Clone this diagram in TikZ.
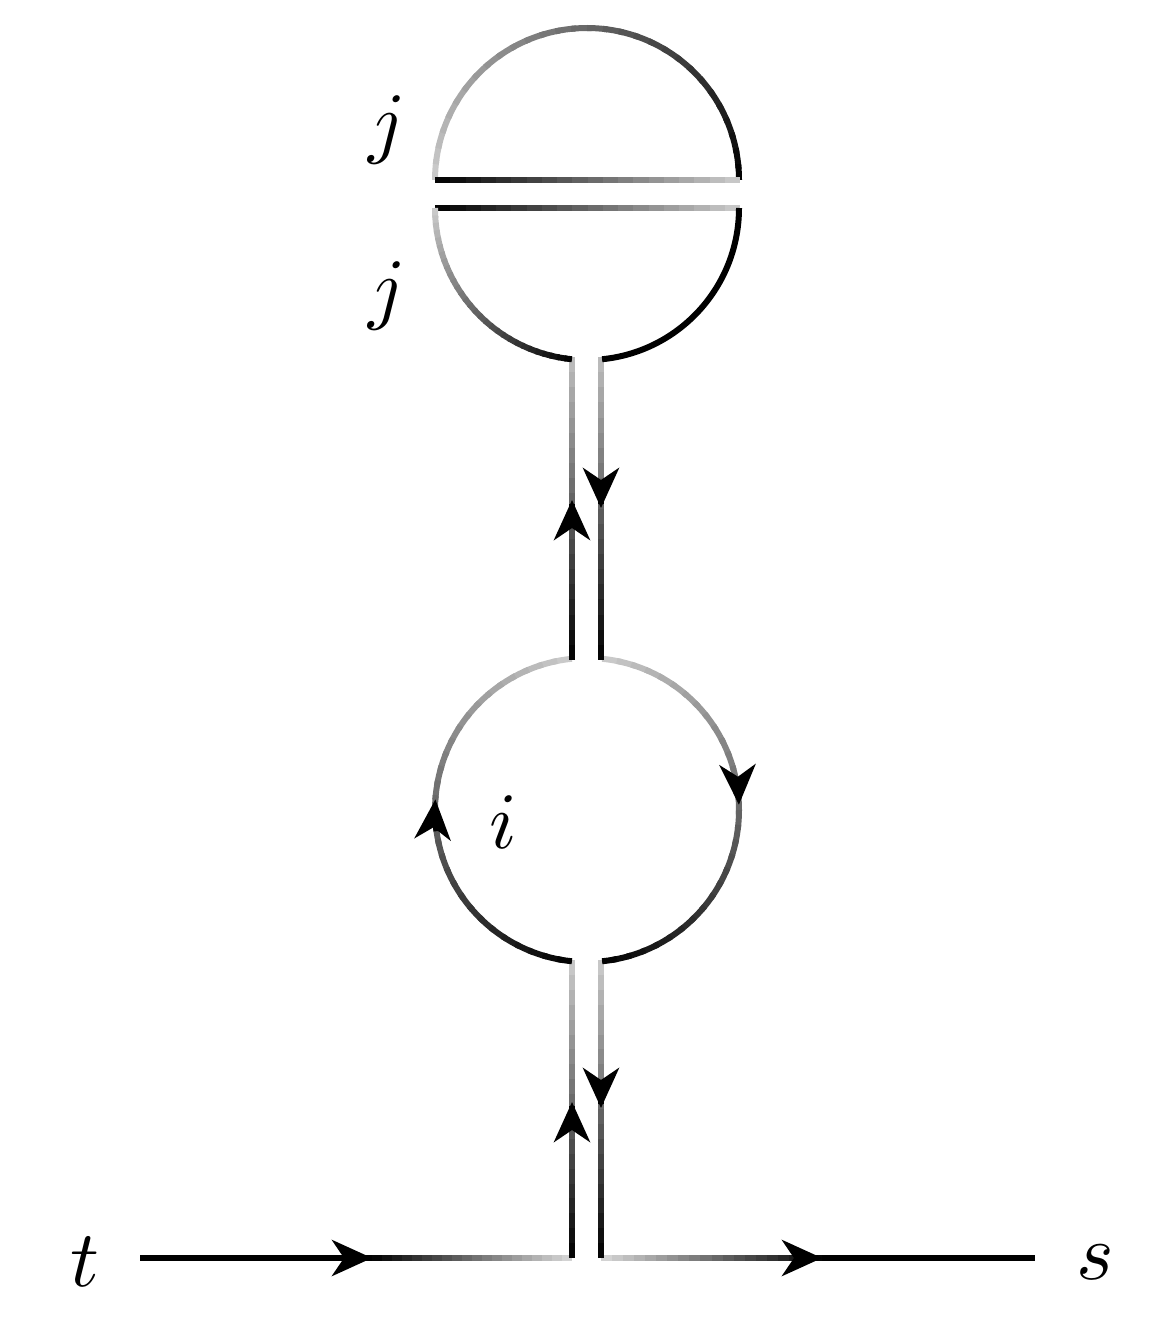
\documentclass[tikz,border=0pt]{standalone}
\usetikzlibrary{calc,arrows.meta}
\tikzset{
  wire/.style={line width=6pt},
  arr/.style={-{Stealth[length=40pt,width=36pt,inset=12pt]},line width=6pt,black},
  lab/.style={scale=8,inner sep=0pt}
}
% shaded straight wire: start, end, start shade, end shade
\newcommand{\gline}[4]{%
  \foreach \k in {0,...,19}{%
    \pgfmathsetmacro\pa{\k/20}\pgfmathsetmacro\pb{min(1,(\k+1.3)/20)}%
    \pgfmathsetmacro\sh{#3+(#4-#3)*(\k+0.5)/20}%
    \draw[wire,black!\sh] ($(#1)!\pa!(#2)$) -- ($(#1)!\pb!(#2)$);}}
% shaded arc: centre, radius, start angle, end angle, start shade, end shade
\newcommand{\garc}[6]{%
  \foreach \k in {0,...,29}{%
    \pgfmathsetmacro\aa{#3+(#4-#3)*\k/30}\pgfmathsetmacro\ab{#3+(#4-#3)*min(1,(\k+1.3)/30)}%
    \pgfmathsetmacro\sh{#5+(#6-#5)*(\k+0.5)/30}%
    \draw[wire,black!\sh] ([shift={(\aa:#2)}]#1) arc[start angle=\aa,end angle=\ab,radius=#2];}}
\begin{document}
\begin{tikzpicture}[x=1pt,y=-1pt]
\useasboundingbox (0,0) rectangle (1150,1321);

% points
\coordinate (in) at (140,1258);
\coordinate (inmid) at (372,1258);
\coordinate (vl) at (572,1258);
\coordinate (vr) at (601,1258);
\coordinate (outmid) at (822,1258);
\coordinate (out) at (1035,1258);
\coordinate (lbl) at (572,960);
\coordinate (lbr) at (601,960);
\coordinate (ltl) at (572,660);
\coordinate (ltr) at (601,660);
\coordinate (ubl) at (572,357);
\coordinate (ubr) at (601,357);
\coordinate (loop) at (587,810);
\coordinate (bubtop) at (587,180);
\coordinate (bubbot) at (587,208);

% external legs
\draw[wire] (in) -- (inmid);
\gline{inmid}{vl}{100}{15}
\gline{vr}{outmid}{15}{100}
\draw[wire] (outmid) -- (out);

% lower double line
\gline{lbl}{vl}{20}{100}
\gline{lbr}{vr}{20}{100}

% loop i
\garc{loop}{152}{264.3}{95.7}{20}{100}
\garc{loop}{152}{275.7}{444.3}{20}{100}

% middle double line
\gline{ubl}{ltl}{25}{100}
\gline{ubr}{ltr}{25}{100}

% bubble j
\garc{bubtop}{152}{180}{360}{20}{100}
\gline{435,180}{740,180}{100}{20}
\gline{435,208}{740,208}{100}{20}
\garc{bubbot}{152}{180}{95.7}{20}{100}
\draw[wire] ([shift={(84.3:152)}]bubbot) arc[start angle=84.3,end angle=0,radius=152];

% arrow tips
\draw[arr] ($(inmid)+(-4,0)$) -- (inmid);
\draw[arr] ($(outmid)+(-4,0)$) -- (outmid);
\draw[arr] (572,1106) -- (572,1102);
\draw[arr] (601,1104) -- (601,1108);
\draw[arr] (572,504) -- (572,500);
\draw[arr] (601,504) -- (601,508);
\draw[arr] ([shift={(172:152)}]loop) arc[start angle=172,end angle=184,radius=152];
\draw[arr] ([shift={(-10:152)}]loop) arc[start angle=-10,end angle=-2,radius=152];

% labels
\node[lab] (t) at (85,1262) {$t$};
\node[lab] (s) at (1095,1262) {$s$};
\node[lab] (i) at (503,822) {$i$};
\node[lab] (j1) at (387,130) {$j$};
\node[lab] (j2) at (387,296) {$j$};
\end{tikzpicture}
\end{document}
